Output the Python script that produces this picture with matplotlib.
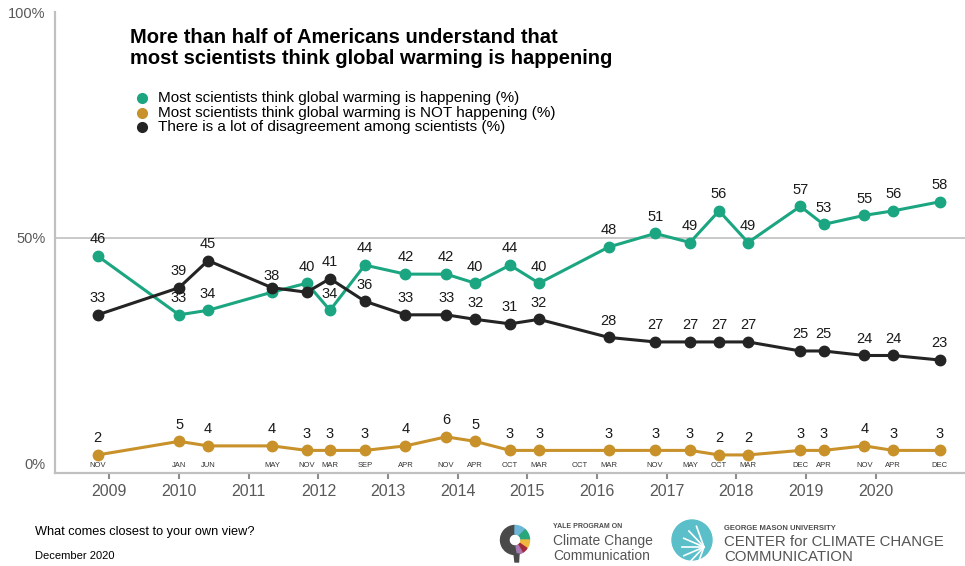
import numpy as np
import matplotlib.pyplot as plt
from matplotlib.lines import Line2D
from matplotlib.patches import Wedge, Circle, Polygon

plt.rcParams['font.family'] = ['Liberation Sans', 'DejaVu Sans']

# survey waves
months = ['NOV', 'JAN', 'JUN', 'MAY', 'NOV', 'MAR', 'SEP', 'APR', 'NOV', 'APR', 'OCT', 'MAR',
          'OCT', 'MAR', 'NOV', 'MAY', 'OCT', 'MAR', 'DEC', 'APR', 'NOV', 'APR', 'DEC']
years = [2008, 2010, 2010, 2011, 2011, 2012, 2012, 2013, 2013, 2014, 2014, 2015,
         2015, 2016, 2016, 2017, 2017, 2018, 2018, 2019, 2019, 2020, 2020]

happening = [46, 33, 34, 38, 40, 34, 44, 42, 42, 40, 44, 40,
             None, 48, 51, 49, 56, 49, 57, 53, 55, 56, 58]
not_happening = [2, 5, 4, 4, 3, 3, 3, 4, 6, 5, 3, 3,
                 None, 3, 3, 3, 2, 2, 3, 3, 4, 3, 3]
disagreement = [33, 39, 45, 39, 38, 41, 36, 33, 33, 32, 31, 32,
                None, 28, 27, 27, 27, 27, 25, 25, 24, 24, 23]
# waves where the chart leaves the disagreement value unlabeled
disagreement_unlabeled = [3, 4]

year_ticks = list(range(2009, 2021))
series_names = ['Most scientists think global warming is happening (%)',
                'Most scientists think global warming is NOT happening (%)',
                'There is a lot of disagreement among scientists (%)']

GREEN = '#1ba681'
GOLD = '#c8912a'
BLACK = '#242424'
GRAY = '#c0c0c0'

month_idx = {m: i for i, m in enumerate(['JAN', 'FEB', 'MAR', 'APR', 'MAY', 'JUN', 'JUL',
                                         'AUG', 'SEP', 'OCT', 'NOV', 'DEC'])}
x = np.array([y + month_idx[m] / 12 for m, y in zip(months, years)])

fig = plt.figure(figsize=(9.65, 5.66), dpi=100)
ax = fig.add_axes([55 / 965, 93 / 566, 910 / 965, 461 / 566])
ax.set_xlim(2008.22, 2021.28)
ax.set_ylim(-2, 100)

ax.axhline(50, color=GRAY, lw=1.2, zorder=0)


def draw_series(vals, color, skip=()):
    v = np.array([np.nan if a is None else a for a in vals], dtype=float)
    ok = ~np.isnan(v)
    ax.plot(x[ok], v[ok], color=color, lw=2.2, marker='o', ms=7.5, zorder=3)
    for i in np.where(ok)[0]:
        if i in skip:
            continue
        ax.annotate(str(int(v[i])), (x[i], v[i]), xytext=(0, 12), textcoords='offset points',
                    ha='center', va='center', fontsize=10.5, color='#1a1a1a', zorder=4)


draw_series(happening, GREEN)
draw_series(not_happening, GOLD)
draw_series(disagreement, BLACK, skip=disagreement_unlabeled)

for xi, m in zip(x, months):
    ax.text(xi, -0.3, m, ha='center', va='center', fontsize=5.5, color='#333333')

for s in ['top', 'right']:
    ax.spines[s].set_visible(False)
ax.spines['left'].set_color(GRAY)
ax.spines['left'].set_linewidth(1.6)
ax.spines['bottom'].set_color(GRAY)
ax.spines['bottom'].set_linewidth(1.6)

ax.set_yticks([0, 50, 100])
ax.set_yticklabels(['0%', '50%', '100%'])
ax.tick_params(axis='y', length=0, pad=7, labelsize=10.5, labelcolor='#595959')
ax.set_xticks(year_ticks)
ax.set_xticklabels([str(y) for y in year_ticks])
ax.tick_params(axis='x', length=4, width=1.5, color='#8c8c8c', pad=4,
               labelsize=11.5, labelcolor='#595959')

# title
fig.text(130 / 965, 1 - 48 / 566,
         'More than half of Americans understand that\nmost scientists think global warming is happening',
         fontsize=14.5, fontweight='bold', ha='left', va='center', linespacing=1.17)

# legend
for k, (name, col) in enumerate(zip(series_names, [GREEN, GOLD, BLACK])):
    yy = 1 - (98 + 14.5 * k) / 566
    fig.add_artist(Line2D([142 / 965], [yy], marker='o', ms=7, color=col,
                          transform=fig.transFigure))
    fig.text(158 / 965, yy, name, fontsize=11, ha='left', va='center')

# footer
fig.text(35 / 965, 1 - 532 / 566, 'What comes closest to your own view?', fontsize=9.2,
         ha='left', va='center')
fig.text(35 / 965, 1 - 556 / 566, 'December 2020', fontsize=8, ha='left', va='center')

# Yale logo
lax = fig.add_axes([495 / 965, 1 / 566, 40 / 965, 48 / 566])
lax.set_xlim(0, 40)
lax.set_ylim(0, 48)
lax.axis('off')
cx, cy, r, w = 20, 25, 14.5, 8.5
lax.add_patch(Wedge((cx, cy), r, 90, 280, width=w, color='#4a4a4a'))
for a0, a1, c in [(45, 90, '#6cb7d8'), (0, 45, '#2aa77a'), (-35, 0, '#f0b73e'),
                  (-60, -35, '#a3283a'), (-80, -60, '#a67ab0')]:
    lax.add_patch(Wedge((cx, cy), r, a0, a1, width=w, color=c))
lax.add_patch(Polygon([[cx - 1, cy - r + 0.5], [cx + 4, cy - r + 0.5], [cx + 3.5, 3], [cx, 3]],
                      color='#4a4a4a'))
fig.text(553 / 965, 1 - 527 / 566, 'YALE PROGRAM ON', fontsize=5, color='#4d4d4d',
         ha='left', va='center', fontweight='bold')
fig.text(553 / 965, 1 - 541 / 566, 'Climate Change', fontsize=10, color='#555555',
         ha='left', va='center')
fig.text(553 / 965, 1 - 555.5 / 566, 'Communication', fontsize=10, color='#555555',
         ha='left', va='center')

# George Mason logo
gax = fig.add_axes([670 / 965, 1 / 566, 46 / 965, 48 / 566])
gax.set_xlim(0, 46)
gax.set_ylim(0, 48)
gax.axis('off')
gax.add_patch(Circle((22, 25), 20, color='#5bbfca'))
px, py = 34, 18
for ang in np.linspace(110, 250, 7):
    t = np.deg2rad(ang)
    gax.plot([px, px + 22 * np.cos(t)], [py, py + 22 * np.sin(t)], color='white', lw=1.2)
fig.text(724 / 965, 1 - 528 / 566, 'GEORGE MASON UNIVERSITY', fontsize=5.5, color='#4d4d4d',
         ha='left', va='center', fontweight='bold')
fig.text(724 / 965, 1 - 542 / 566, 'CENTER for CLIMATE CHANGE', fontsize=10.8, color='#555555',
         ha='left', va='center')
fig.text(724 / 965, 1 - 557 / 566, 'COMMUNICATION', fontsize=10.8, color='#555555',
         ha='left', va='center')

fig.savefig('out.png', dpi=100, facecolor='white')
